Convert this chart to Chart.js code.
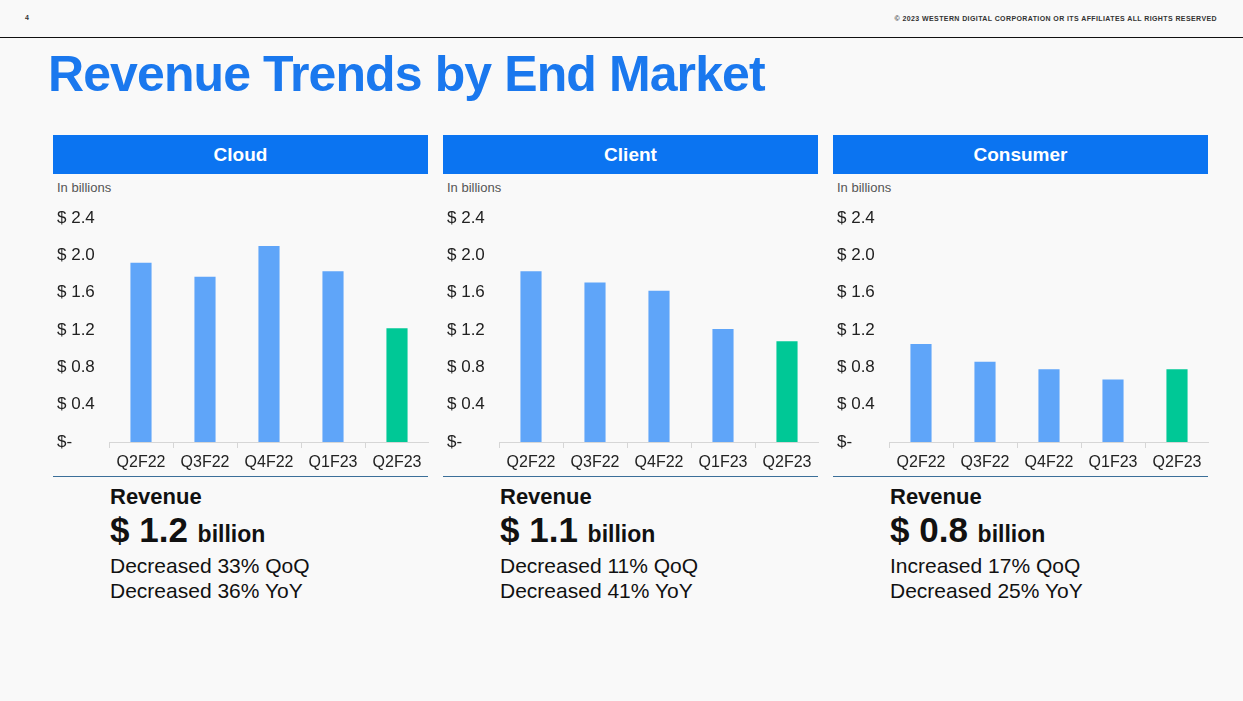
<!DOCTYPE html>
<html>
<head>
<meta charset="utf-8">
<script src="https://cdn.jsdelivr.net/npm/chart.js@4"></script>
<style>
  body { margin: 0; width: 1243px; height: 701px; background: #f9f9f9; font-family: Arial, "Liberation Sans", sans-serif; position: relative; overflow: hidden; }
  .abs { position: absolute; }
  #pageno { left: 25px; top: 14px; font-size: 7px; font-weight: bold; color: #333; }
  #copy { right: 26px; top: 15px; font-size: 7px; font-weight: bold; color: #333; letter-spacing: 0.4px; }
  #rule { left: 0; top: 37px; width: 1243px; height: 1px; background: #111; }
  #title { left: 48px; top: 45px; font-size: 50px; font-weight: bold; color: #1a78ee; letter-spacing: -0.9px; }
  .head { height: 39px; top: 135px; width: 375px; background: #0b74f1; color: #fff; font-weight: bold; font-size: 19px; text-align: center; line-height: 39px; }
  .unit { top: 180px; font-size: 13px; color: #555; }
  .box { top: 195px; width: 376px; height: 275px; }
  .bline { top: 476px; width: 375px; height: 1px; background: #3b6f99; }
  .sum { top: 483px; color: #111; }
  .sum .t1 { font-size: 22px; font-weight: bold; line-height: 28px; }
  .sum .t2 { font-size: 35px; font-weight: bold; line-height: 38px; }
  .sum .t2 span { font-size: 23px; }
  .sum .t3 { font-size: 21px; line-height: 25px; }
</style>
</head>
<body>
<div id="pageno" class="abs">4</div>
<div id="copy" class="abs">© 2023 WESTERN DIGITAL CORPORATION OR ITS AFFILIATES  ALL RIGHTS RESERVED</div>
<div id="rule" class="abs"></div>
<div id="title" class="abs">Revenue Trends by End Market</div>

<div id="panels"></div>

<script>
// data (in billions)
const quarters = ['Q2F22', 'Q3F22', 'Q4F22', 'Q1F23', 'Q2F23'];
const cloud = [1.92, 1.77, 2.10, 1.83, 1.22];
const client = [1.83, 1.71, 1.62, 1.21, 1.08];
const consumer = [1.05, 0.86, 0.78, 0.67, 0.78];
const yTicks = [0, 0.4, 0.8, 1.2, 1.6, 2.0, 2.4];

const panels = [
  { name: 'Cloud', data: cloud, left: 53, rev: '1.2', qoq: 'Decreased 33% QoQ', yoy: 'Decreased 36% YoY' },
  { name: 'Client', data: client, left: 443, rev: '1.1', qoq: 'Decreased 11% QoQ', yoy: 'Decreased 41% YoY' },
  { name: 'Consumer', data: consumer, left: 833, rev: '0.8', qoq: 'Increased 17% QoQ', yoy: 'Decreased 25% YoY' }
];

const wrap = document.getElementById('panels');

panels.forEach(function(p, i) {
  wrap.insertAdjacentHTML('beforeend',
    '<div class="abs head" style="left:' + p.left + 'px">' + p.name + '</div>' +
    '<div class="abs unit" style="left:' + (p.left + 4) + 'px">In billions</div>' +
    '<div class="abs box" style="left:' + p.left + 'px"><canvas id="c' + i + '"></canvas></div>' +
    '<div class="abs bline" style="left:' + p.left + 'px"></div>' +
    '<div class="abs sum" style="left:' + (p.left + 57) + 'px">' +
      '<div class="t1">Revenue</div>' +
      '<div class="t2">$ ' + p.rev + ' <span>billion</span></div>' +
      '<div class="t3">' + p.qoq + '</div>' +
      '<div class="t3">' + p.yoy + '</div>' +
    '</div>');

  // last quarter highlighted in green
  const colors = p.data.map(function(v, j) { return j === p.data.length - 1 ? '#00c896' : '#5fa5f9'; });

  new Chart(document.getElementById('c' + i), {
    type: 'bar',
    data: {
      labels: quarters,
      datasets: [{
        data: p.data,
        backgroundColor: colors,
        barPercentage: 0.33,
        categoryPercentage: 1.0
      }]
    },
    options: {
      responsive: true,
      maintainAspectRatio: false,
      animation: false,
      layout: { padding: { left: 4, top: 23, right: 0, bottom: 0 } },
      plugins: { legend: { display: false }, tooltip: { enabled: false } },
      scales: {
        x: {
          offset: true,
          grid: { display: true, drawOnChartArea: false, offset: true, tickLength: 6, color: '#d6d6d6' },
          border: { display: true, color: '#d6d6d6' },
          ticks: { color: '#222', font: { size: 16, family: 'Arial, "Liberation Sans"' }, padding: 5, maxRotation: 0 },
          afterFit: function(s) { s.height = 28; }
        },
        y: {
          min: 0,
          max: 2.4,
          afterBuildTicks: function(s) { s.ticks = yTicks.map(function(v) { return { value: v }; }); },
          grid: { display: false },
          border: { display: false },
          ticks: {
            color: '#222',
            crossAlign: 'far',
            padding: 0,
            font: { size: 17, family: 'Arial, "Liberation Sans"' },
            callback: function(v) { return v === 0 ? '$-' : '$ ' + v.toFixed(1); }
          },
          afterFit: function(s) { s.width = 52; }
        }
      }
    }
  });
});
</script>
</body>
</html>
